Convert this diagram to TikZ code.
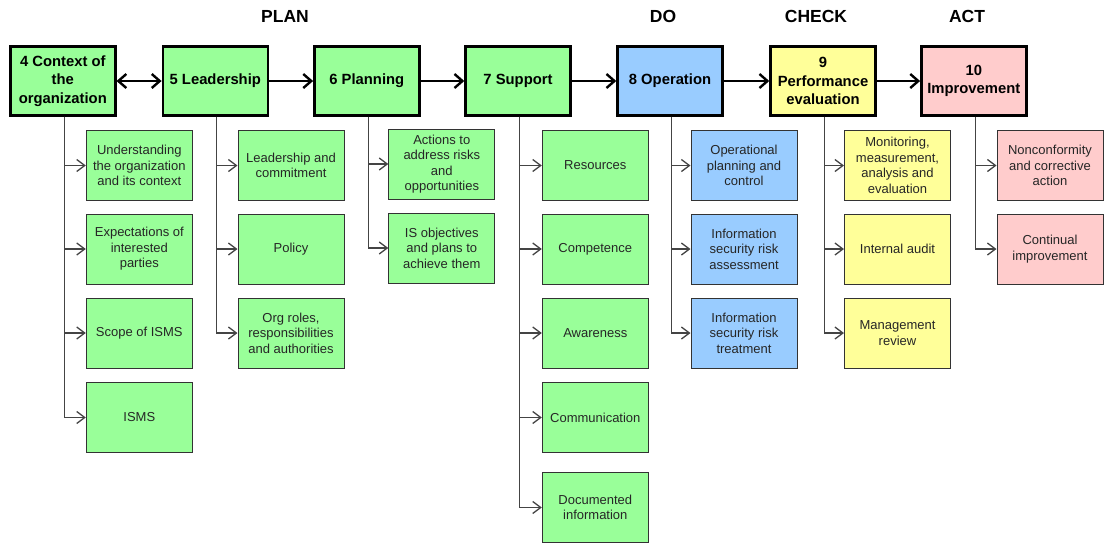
\documentclass[tikz,border=0pt]{standalone}
\usepackage{fontspec}
\setmainfont{Liberation Sans}
\usetikzlibrary{arrows.meta}
\definecolor{cgreen}{HTML}{99FF99}
\definecolor{cblue}{HTML}{99CCFF}
\definecolor{cyellow}{HTML}{FFFF99}
\definecolor{cpink}{HTML}{FFCCCC}
\definecolor{subedge}{HTML}{333333}
\definecolor{subline}{HTML}{444444}
\tikzset{
  mainbox/.style={draw=black, line width=2.4pt, minimum width=105pt, minimum height=69pt,
    align=center, inner sep=1pt, font=\fontsize{14.8}{18.5}\selectfont\bfseries},
  subbox/.style={draw=subedge, line width=1pt, minimum width=106pt, minimum height=70pt,
    align=center, inner sep=1pt, text=black!85, font=\fontsize{13}{15.5}\selectfont},
  phase/.style={font=\fontsize{17.5}{20}\selectfont\bfseries},
  mainarrow/.style={line width=2.4pt, -{Straight Barb[length=8pt,width=14pt,line width=2.4pt]}},
  mainboth/.style={line width=2.4pt, {Straight Barb[length=8pt,width=14pt,line width=2.4pt]}-{Straight Barb[length=8pt,width=14pt,line width=2.4pt]}},
  subarrow/.style={draw=subline, line width=1.3pt, -{Straight Barb[length=8pt,width=12pt,line width=1.3pt]}},
}
\begin{document}
\begin{tikzpicture}[x=1pt,y=-1pt]
\useasboundingbox[fill=white] (0,0) rectangle (1104,542);

% phase labels
\node[phase] (lplan) at (285,16) {PLAN};
\node[phase] (ldo) at (663,16) {DO};
\node[phase] (lcheck) at (816,16) {CHECK};
\node[phase] (lact) at (967,16) {ACT};

% main boxes
\node[mainbox, fill=cgreen] (m4) at (62.8,81) {4 Context of\\the\\organization};
\node[mainbox, fill=cgreen] (m5) at (215.3,81) {5 Leadership};
\node[mainbox, fill=cgreen] (m6) at (366.8,81) {6 Planning};
\node[mainbox, fill=cgreen] (m7) at (518,81) {7 Support};
\node[mainbox, fill=cblue] (m8) at (670,81) {8 Operation};
\node[mainbox, fill=cyellow] (m9) at (823,81) {9\\Performance\\evaluation};
\node[mainbox, fill=cpink] (m10) at (973.8,81) {10\\Improvement};

\draw[mainboth] (m4) -- (m5);
\draw[mainarrow] (m5) -- (m6);
\draw[mainarrow] (m6) -- (m7);
\draw[mainarrow] (m7) -- (m8);
\draw[mainarrow] (m8) -- (m9);
\draw[mainarrow] (m9) -- (m10);

% sub boxes: context
\node[subbox, fill=cgreen] (s41) at (139.3,165.5) {Understanding\\the organization\\and its context};
\node[subbox, fill=cgreen] (s42) at (139.3,249) {Expectations of\\interested\\parties};
\node[subbox, fill=cgreen] (s43) at (139.3,333) {Scope of ISMS};
\node[subbox, fill=cgreen] (s44) at (139.3,417.5) {ISMS};
% leadership
\node[subbox, fill=cgreen] (s51) at (291,165.5) {Leadership and\\commitment};
\node[subbox, fill=cgreen] (s52) at (291,249) {Policy};
\node[subbox, fill=cgreen] (s53) at (291,333) {Org roles,\\responsibilities\\and authorities};
% planning
\node[subbox, fill=cgreen] (s61) at (441.8,164) {Actions to\\address risks\\and\\opportunities};
\node[subbox, fill=cgreen] (s62) at (441.8,248) {IS objectives\\and plans to\\achieve them};
% support
\node[subbox, fill=cgreen] (s71) at (595.3,165.5) {Resources};
\node[subbox, fill=cgreen] (s72) at (595.3,249) {Competence};
\node[subbox, fill=cgreen] (s73) at (595.3,333) {Awareness};
\node[subbox, fill=cgreen] (s74) at (595.3,417.5) {Communication};
\node[subbox, fill=cgreen] (s75) at (595.3,507.5) {Documented\\information};
% operation
\node[subbox, fill=cblue] (s81) at (744,165.5) {Operational\\planning and\\control};
\node[subbox, fill=cblue] (s82) at (744,249) {Information\\security risk\\assessment};
\node[subbox, fill=cblue] (s83) at (744,333) {Information\\security risk\\treatment};
% check
\node[subbox, fill=cyellow] (s91) at (897.5,165.5) {Monitoring,\\measurement,\\analysis and\\evaluation};
\node[subbox, fill=cyellow] (s92) at (897.5,249) {Internal audit};
\node[subbox, fill=cyellow] (s93) at (897.5,333) {Management\\review};
% act
\node[subbox, fill=cpink] (s101) at (1050,165.5) {Nonconformity\\and corrective\\action};
\node[subbox, fill=cpink] (s102) at (1050,249) {Continual\\improvement};

% connectors
\foreach \m/\s in {m4/s41,m4/s42,m4/s43,m4/s44,
                   m5/s51,m5/s52,m5/s53,
                   m6/s61,m6/s62,
                   m7/s71,m7/s72,m7/s73,m7/s74,m7/s75,
                   m8/s81,m8/s82,m8/s83,
                   m9/s91,m9/s92,m9/s93,
                   m10/s101,m10/s102}
  \draw[subarrow] ([xshift=1.5pt]\m.south) |- (\s.west);
\end{tikzpicture}
\end{document}
